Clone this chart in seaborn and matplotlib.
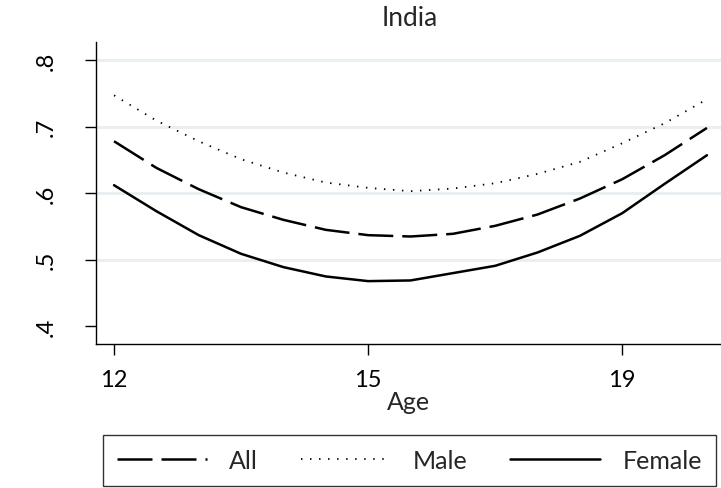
import matplotlib
matplotlib.use("Agg")
import matplotlib.pyplot as plt
import seaborn as sns
import pandas as pd

# ---- data ----
age_pos = [12, 12.5, 13, 13.5, 14, 14.5, 15, 15.5, 16, 16.5, 17, 17.5, 18, 18.5, 19]
all_vals = [0.678, 0.638, 0.606, 0.579, 0.560, 0.545, 0.537, 0.535, 0.539, 0.551, 0.568, 0.592, 0.621, 0.657, 0.698]
male_vals = [0.747, 0.709, 0.678, 0.651, 0.631, 0.616, 0.608, 0.603, 0.607, 0.615, 0.629, 0.647, 0.675, 0.705, 0.741]
female_vals = [0.612, 0.573, 0.537, 0.509, 0.489, 0.475, 0.468, 0.469, 0.480, 0.491, 0.511, 0.536, 0.570, 0.614, 0.657]
series_names = ["All", "Male", "Female"]
x_tick_pos = [12, 15, 18]
x_tick_labels = ["12", "15", "19"]
y_ticks = [0.4, 0.5, 0.6, 0.7, 0.8]
y_tick_labels = [".4", ".5", ".6", ".7", ".8"]

df = pd.concat([
    pd.DataFrame({"Age": age_pos, "value": vals, "group": name})
    for name, vals in zip(series_names, [all_vals, male_vals, female_vals])
], ignore_index=True)

sns.set_style("white")
plt.rcParams["font.family"] = ["Lato", "DejaVu Sans"]

W, H = 721, 489
fig = plt.figure(figsize=(W / 100, H / 100), dpi=100)
ax = fig.add_axes([96 / W, 1 - 345 / H, (W - 96) / W, (345 - 43) / H])

sns.lineplot(
    data=df, x="Age", y="value", hue="group", style="group", size="group",
    palette={"All": "black", "Male": "black", "Female": "black"},
    dashes={"All": (14, 3.6), "Male": (0.8, 4.2), "Female": ""},
    sizes={"All": 1.8, "Male": 1.3, "Female": 1.8},
    hue_order=series_names, style_order=series_names, size_order=series_names,
    ax=ax, legend=True,
)

handles, labels = ax.get_legend_handles_labels()
ax.get_legend().remove()
hmap = dict(zip(labels, handles))

ax.set_xlim(11.787, 19.166)
ax.set_ylim(0.3736, 0.827)
ax.set_xticks(x_tick_pos)
ax.set_xticklabels(x_tick_labels)
ax.set_yticks(y_ticks)
ax.set_yticklabels(y_tick_labels, rotation=90, va="center")

ax.yaxis.grid(True, color="#e8eff1", linewidth=2.0)
ax.xaxis.grid(False)
ax.get_ygridlines()[0].set_visible(False)
ax.set_axisbelow(True)

for s in ["top", "right"]:
    ax.spines[s].set_visible(False)
for s in ["left", "bottom"]:
    ax.spines[s].set_color("black")
    ax.spines[s].set_linewidth(1.0)

ax.tick_params(axis="both", direction="out", length=8, width=1.0, color="black",
               labelsize=17, labelcolor="black", bottom=True, left=True)
ax.tick_params(axis="x", pad=10)
ax.tick_params(axis="y", pad=20)

ax.set_xlabel("Age", fontsize=18, labelpad=0)
ax.set_ylabel("")
fig.text(410 / W, 1 - 18 / H, "India", ha="center", va="center", fontsize=19)

leg = fig.legend(
    [hmap[n] for n in series_names], series_names,
    loc="center", bbox_to_anchor=(409.5 / W, 1 - 461.5 / H),
    ncol=3, frameon=True, fancybox=False, fontsize=18,
    handlelength=3.6, handletextpad=0.9, columnspacing=1.7,
    borderpad=0.55,
)
leg.get_frame().set_edgecolor("black")
leg.get_frame().set_linewidth(1.0)

fig.savefig("out.png", dpi=100)
